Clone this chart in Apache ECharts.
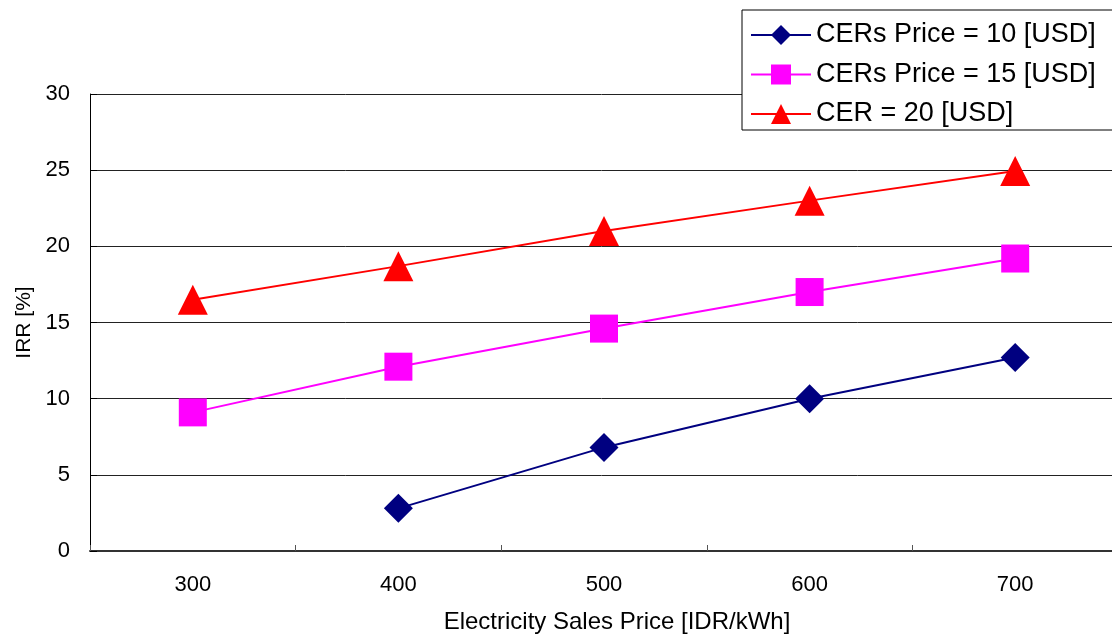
<!DOCTYPE html>
<html><head><meta charset="utf-8">
<script src="https://cdn.jsdelivr.net/npm/echarts@6/dist/echarts.min.js"></script>
<style>html,body{margin:0;padding:0;background:#fff}#c{width:1112px;height:637px}</style>
</head><body><div id="c"></div>
<script>
const categories = ['300','400','500','600','700'];
const cer10 = [null, 2.8, 6.8, 10.0, 12.7];
const cer15 = [9.1, 12.1, 14.6, 17.0, 19.2];
const cer20 = [16.5, 18.7, 21.0, 23.0, 24.95];
const seriesNames = ['CERs Price = 10 [USD]', 'CERs Price = 15 [USD]', 'CER = 20 [USD]'];
const yTicks = {min: 0, max: 30, interval: 5};

const font = '"Liberation Sans", Arial, sans-serif';
const chart = echarts.init(document.getElementById('c'), null, {renderer: 'canvas'});
function mk(name, data, color, symbol, size) {
  return {
    name, type: 'line', data, symbol, symbolSize: size, connectNulls: false,
    lineStyle: {color, width: 2}, itemStyle: {color},
    animation: false
  };
}
chart.setOption({
  animation: false,
  backgroundColor: '#fff',
  grid: {left: 90, top: 94, bottom: 86, width: 1028, containLabel: false, outerBoundsMode: 'none'},
  legend: {
    orient: 'vertical', left: 742, top: 10,
    backgroundColor: '#fff', borderColor: '#000', borderWidth: 1,
    padding: [11, 20, 2, 8],
    itemWidth: 60, itemHeight: 25, itemGap: 11.5,
    textStyle: {fontFamily: font, fontSize: 27, color: '#000', lineHeight: 28},
    data: seriesNames.map(n => ({name: n}))
  },
  xAxis: {
    type: 'category', data: categories, boundaryGap: true,
    name: 'Electricity Sales Price [IDR/kWh]', nameLocation: 'middle', nameGap: 59,
    nameTextStyle: {fontFamily: font, fontSize: 24, color: '#000', padding: [0, 0, 0, 26]},
    axisLine: {lineStyle: {color: '#333', width: 2}},
    axisTick: {show: true, inside: true, length: 6, alignWithLabel: false, lineStyle: {color: '#555', width: 1}},
    axisLabel: {fontFamily: font, fontSize: 22, color: '#000', margin: 23},
    splitLine: {show: false}
  },
  yAxis: {
    type: 'value', min: yTicks.min, max: yTicks.max, interval: yTicks.interval,
    name: 'IRR [%]', nameLocation: 'middle', nameGap: 54, nameRotate: 90,
    nameTextStyle: {fontFamily: font, fontSize: 21, color: '#000'},
    axisLine: {show: true, lineStyle: {color: '#000', width: 1}},
    axisTick: {show: true, inside: true, length: 7, lineStyle: {color: '#000'}},
    axisLabel: {fontFamily: font, fontSize: 22, color: '#000', margin: 20},
    splitLine: {show: true, lineStyle: {color: '#222', width: 1}}
  },
  series: [
    mk(seriesNames[0], cer10, '#000080', 'diamond', 29),
    mk(seriesNames[1], cer15, '#FF00FF', 'rect', 28),
    mk(seriesNames[2], cer20, '#FF0000', 'triangle', 30)
  ]
});
</script></body></html>
